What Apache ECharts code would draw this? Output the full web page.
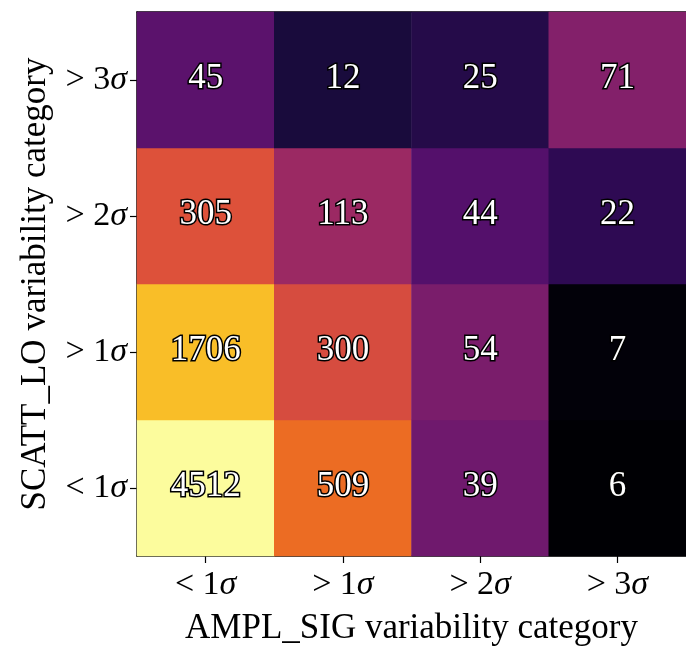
<!DOCTYPE html>
<html><head><meta charset="utf-8">
<script src="https://cdn.jsdelivr.net/npm/echarts@6/dist/echarts.min.js"></script>
<style>html,body{margin:0;padding:0;background:#fff}#c{width:686px;height:651px}</style>
</head><body><div id="c"></div>
<script>
var xCategories = ['< 1', '> 1', '> 2', '> 3'];
var yCategories = ['< 1', '> 1', '> 2', '> 3'];
// counts shown in the cells, rows from bottom ("< 1σ") to top ("> 3σ")
var rowLt1 = [4512, 509, 39, 6];
var rowGt1 = [1706, 300, 54, 7];
var rowGt2 = [305, 113, 44, 22];
var rowGt3 = [45, 12, 25, 71];
// colour level of each cell on the inferno scale (0..1)
var levelLt1 = [0.993, 0.67, 0.312, 0.0];
var levelGt1 = [0.85, 0.58, 0.339, 0.01];
var levelGt2 = [0.60, 0.42, 0.245, 0.155];
var levelGt3 = [0.263, 0.107, 0.135, 0.36];
var rows = [rowLt1, rowGt1, rowGt2, rowGt3];
var levels = [levelLt1, levelGt1, levelGt2, levelGt3];
var infernoStops = ['#000004','#160b39','#420a68','#6a176e','#932667','#bc3754','#dd513a','#f37819','#fca50a','#f6d746','#fcffa4'];

var data = [];
rows.forEach(function(r, yi){ r.forEach(function(v, xi){ data.push([xi, yi, v, levels[yi][xi]]); }); });
var FONT = '"Liberation Serif", "Times New Roman", serif';
function tickFmt(v){ return '{n|' + v + '}{s|σ}'; }
var tickRich = { n: {fontFamily: FONT, fontSize: 34, color: '#000'}, s: {fontFamily: FONT, fontSize: 34, fontStyle: 'italic', color: '#000'} };

var chart = echarts.init(document.getElementById('c'), null, {renderer: 'canvas'});
chart.setOption({
  animation: false,
  backgroundColor: '#fff',
  grid: { left: 137, top: 12, width: 552, height: 553 },
  xAxis: [{
    type: 'category', data: xCategories, position: 'bottom',
    name: 'AMPL_SIG variability category', nameLocation: 'middle', nameGap: 55,
    nameTextStyle: { fontFamily: FONT, fontSize: 35, color: '#000' },
    axisLine: { show: true, lineStyle: { color: '#000', width: 1.5 } },
    axisTick: { show: true, alignWithLabel: true, length: 7, lineStyle: { color: '#000', width: 1.2 } },
    axisLabel: { formatter: tickFmt, rich: tickRich, margin: 12 },
    splitLine: { show: false }
  }, {
    type: 'category', data: xCategories, position: 'top',
    axisLine: { show: true, lineStyle: { color: '#000', width: 1.5 } },
    axisTick: { show: false }, axisLabel: { show: false }
  }],
  yAxis: [{
    type: 'category', data: yCategories,
    name: 'SCATT_LO variability category', nameLocation: 'middle', nameGap: 84, nameRotate: 90,
    nameTextStyle: { fontFamily: FONT, fontSize: 35, color: '#000' },
    axisLine: { show: true, lineStyle: { color: '#000', width: 1.5 } },
    axisTick: { show: true, alignWithLabel: true, length: 7, lineStyle: { color: '#000', width: 1.2 } },
    axisLabel: { formatter: tickFmt, rich: tickRich, margin: 10 },
    splitLine: { show: false }
  }],
  visualMap: {
    show: false, type: 'continuous', dimension: 3,
    min: 0, max: 1,
    inRange: { color: infernoStops }
  },
  series: [{
    type: 'heatmap', data: data, encode: { x: 0, y: 1, value: 2 },
    label: {
      show: true, formatter: function(p){ return p.data[2]; },
      fontFamily: FONT, fontSize: 35, color: '#fff',
      textBorderColor: '#000', textBorderWidth: 3, offset: [0, -1]
    },
    itemStyle: { borderWidth: 0 },
    emphasis: { disabled: true }
  }]
});
</script></body></html>
